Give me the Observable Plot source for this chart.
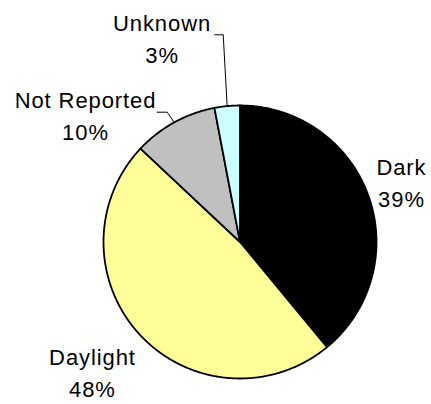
<!DOCTYPE html>
<html>
<head>
<meta charset="utf-8">
<script src="https://cdn.jsdelivr.net/npm/d3@7"></script>
<script src="https://cdn.jsdelivr.net/npm/@observablehq/plot@0.6"></script>
<style>
  html, body { margin: 0; padding: 0; background: #fff; }
  #chart svg { display: block; }
</style>
</head>
<body>
<div id="chart"></div>
<script>
// ---- data ----
const categories = ["Dark", "Daylight", "Not Reported", "Unknown"];
const percents = [39, 48, 10, 3];

// ---- styles / layout (kept apart from the data) ----
const colors = ["#000000", "#FFFF99", "#C0C0C0", "#CCFFFF"];
// label anchor points, in pie-radius units relative to the pie centre (y up)
const labelAt = [[1.183, 0.451], [-1.081, -0.944], [-1.132, 0.941], [-0.571, 1.504]];
// leader elbows for the small slices (radius units), end point is the slice mid-angle on the rim
const leaderElbows = { "Not Reported": [[-0.607, 0.951], [-0.533, 0.951]], "Unknown": [[-0.185, 1.518], [-0.123, 1.518]] };

const W = 431, H = 404, cx = 239.5, cy = 241.5, R = 136.5;

const arcs = d3.pie().sort(null).value(d => d.value).startAngle(0).endAngle(2 * Math.PI)(
  categories.map((c, i) => ({ category: c, value: percents[i] }))
);

// slice outlines in radius units (angle clockwise from 12 o'clock)
const slicePts = [];
for (const a of arcs) {
  const c = a.data.category;
  slicePts.push({ category: c, x: 0, y: 0 });
  const n = Math.max(2, Math.ceil((a.endAngle - a.startAngle) / (Math.PI / 360)));
  for (let k = 0; k <= n; k++) {
    const t = a.startAngle + (a.endAngle - a.startAngle) * k / n;
    slicePts.push({ category: c, x: Math.sin(t), y: Math.cos(t) });
  }
  slicePts.push({ category: c, x: 0, y: 0 });
}

const labels = arcs.map((a, i) => ({
  x: labelAt[i][0], y: labelAt[i][1],
  text: `${a.data.category}\n${a.data.value}%`
}));

const leaderPts = [];
for (const a of arcs) {
  const c = a.data.category;
  if (!leaderElbows[c]) continue;
  for (const [x, y] of leaderElbows[c]) leaderPts.push({ category: c, x, y });
  const m = (a.startAngle + a.endAngle) / 2;
  leaderPts.push({ category: c, x: Math.sin(m), y: Math.cos(m) });
}

const chart = Plot.plot({
  width: W, height: H,
  margin: 0,
  x: { domain: [-cx / R, (W - cx) / R], axis: null },
  y: { domain: [-(H - cy) / R, cy / R], axis: null },
  color: { domain: categories, range: colors },
  style: { fontFamily: "'Liberation Sans', Arial, sans-serif", background: "#fff", letterSpacing: "0.9px" },
  marks: [
    Plot.line(slicePts, { x: "x", y: "y", z: "category", fill: "category", stroke: "#000", strokeWidth: 1.8, strokeLinejoin: "round" }),
    Plot.line(leaderPts, { x: "x", y: "y", z: "category", stroke: "#000", strokeWidth: 1 }),
    Plot.text(labels, { x: "x", y: "y", text: "text", fontSize: 22, lineHeight: 1.45, fill: "#000", textAnchor: "middle" })
  ]
});
document.getElementById("chart").appendChild(chart);
</script>
</body>
</html>
